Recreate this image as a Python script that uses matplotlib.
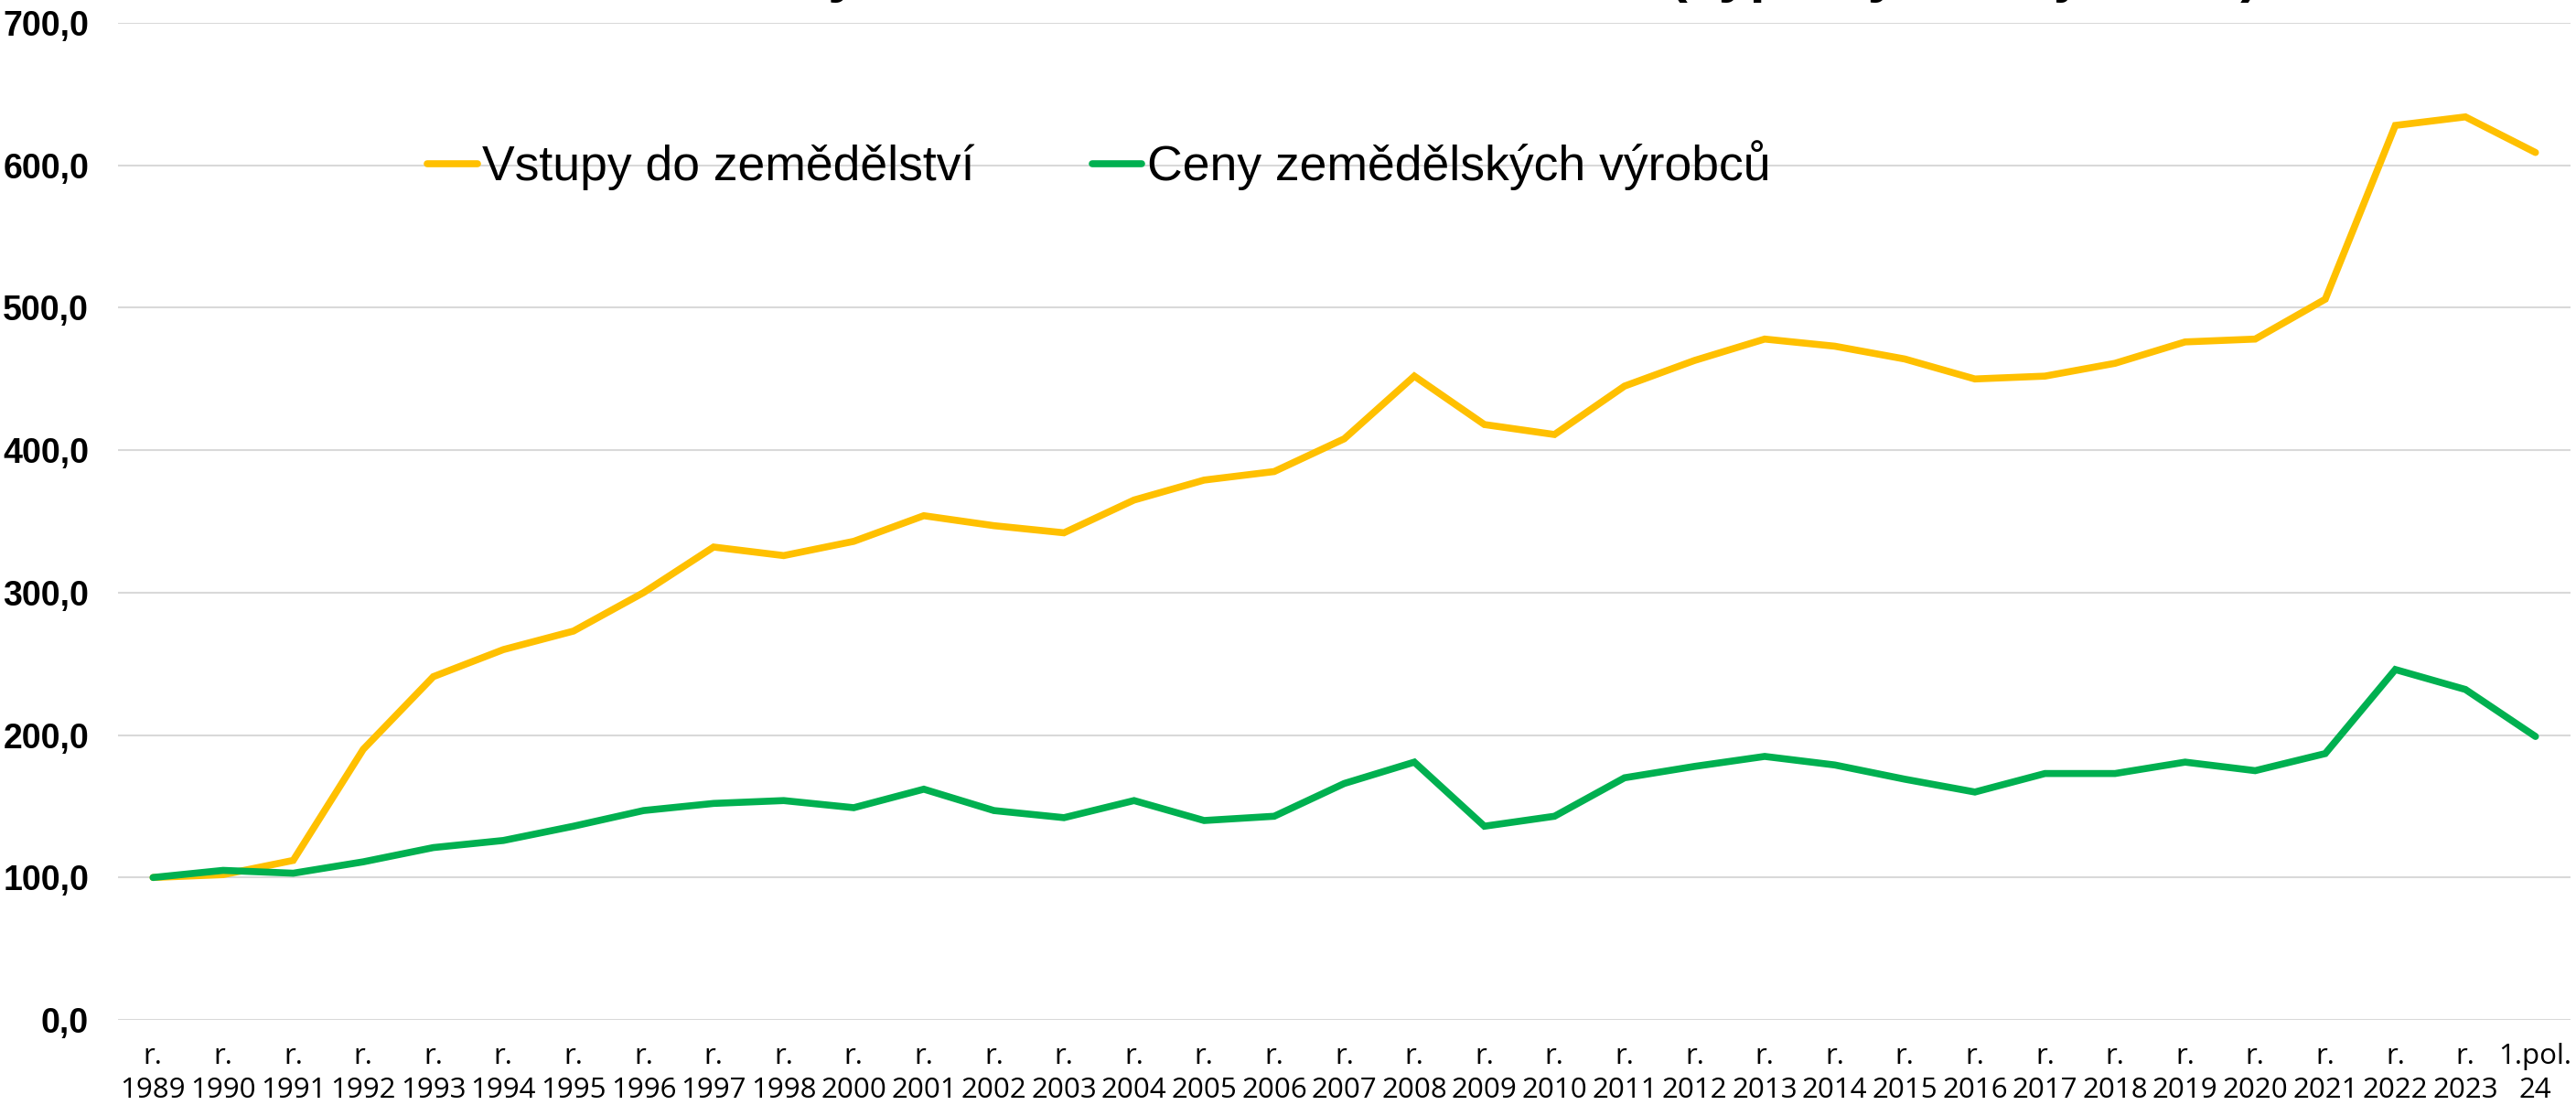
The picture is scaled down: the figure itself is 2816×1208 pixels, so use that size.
import numpy as np
import matplotlib
matplotlib.use("Agg")
import matplotlib.pyplot as plt
from matplotlib.ticker import FuncFormatter

# categories on the x axis
years = ["1989", "1990", "1991", "1992", "1993", "1994", "1995", "1996",
         "1997", "1998", "2000", "2001", "2002", "2003", "2004", "2005",
         "2006", "2007", "2008", "2009", "2010", "2011", "2012", "2013",
         "2014", "2015", "2016", "2017", "2018", "2019", "2020", "2021",
         "2022", "2023", "24"]
prefixes = ["r."] * 34 + ["1.pol."]

# index values, 1989 = 100
vstupy = [100, 102, 112, 190, 241, 260, 273, 300, 332, 326, 336, 354,
          347, 342, 365, 379, 385, 408, 452, 418, 411, 445, 463, 478,
          473, 464, 450, 452, 461, 476, 478, 506, 628, 634, 609]
ceny = [100, 105, 103, 111, 121, 126, 136, 147, 152, 154, 149, 162,
        147, 142, 154, 140, 143, 166, 181, 136, 143, 170, 178, 185,
        179, 169, 160, 173, 173, 181, 175, 187, 246, 232, 199]

series_names = ["Vstupy do zemědělství", "Ceny zemědělských výrobců"]
series_colors = ["#FFC000", "#00B050"]
title = "Cenové indexy v zemědělství, rok 1989 = 100 (výpočty z údajů ČSÚ)"

W, H, DPI = 2816, 1208, 100
fig = plt.figure(figsize=(W / DPI, H / DPI), dpi=DPI)
ax = fig.add_axes([129 / W, 1 - 1115 / H, (2810 - 129) / W, (1115 - 25) / H])

x = np.arange(len(years))
for vals, name, col in zip([vstupy, ceny], series_names, series_colors):
    ax.plot(x, vals, color=col, lw=5.5, label=name,
            solid_capstyle="round", solid_joinstyle="miter")

ax.set_xlim(-0.5, len(years) - 0.5)
ax.set_ylim(0, 700)
ax.set_yticks(np.arange(0, 701, 100))
ax.yaxis.set_major_formatter(FuncFormatter(lambda v, p: f"{v:.1f}".replace(".", ",")))
ax.grid(axis="y", color="#D9D9D9", lw=1.5)
ax.set_axisbelow(True)
for s in ax.spines.values():
    s.set_visible(False)

ax.set_xticks(x)
ax.set_xticklabels([f"{p}\n{y}" for p, y in zip(prefixes, years)],
                   fontsize=22.5, family="Open Sans", linespacing=1.3)
for t in ax.get_yticklabels():
    t.set_fontsize(27)
    t.set_fontweight("bold")
    t.set_family("Liberation Sans")
ax.tick_params(axis="x", length=0, pad=18)
ax.tick_params(axis="y", length=0, pad=23)

leg = ax.legend(loc="center left", bbox_to_anchor=(467 / W, 1 - 181 / H),
                bbox_transform=fig.transFigure, ncol=2, frameon=False,
                prop={"family": "Liberation Sans", "size": 38.5},
                handlelength=1.02, handletextpad=0.1, columnspacing=2.4,
                borderpad=0, borderaxespad=0)

# title sits mostly above the top edge, as in the original
fig.text(2470 / W, 1.0 + 10 / H, title, ha="right", va="baseline",
         fontsize=44, fontweight="bold", family="Liberation Sans")

fig.savefig("out.png", dpi=DPI)
